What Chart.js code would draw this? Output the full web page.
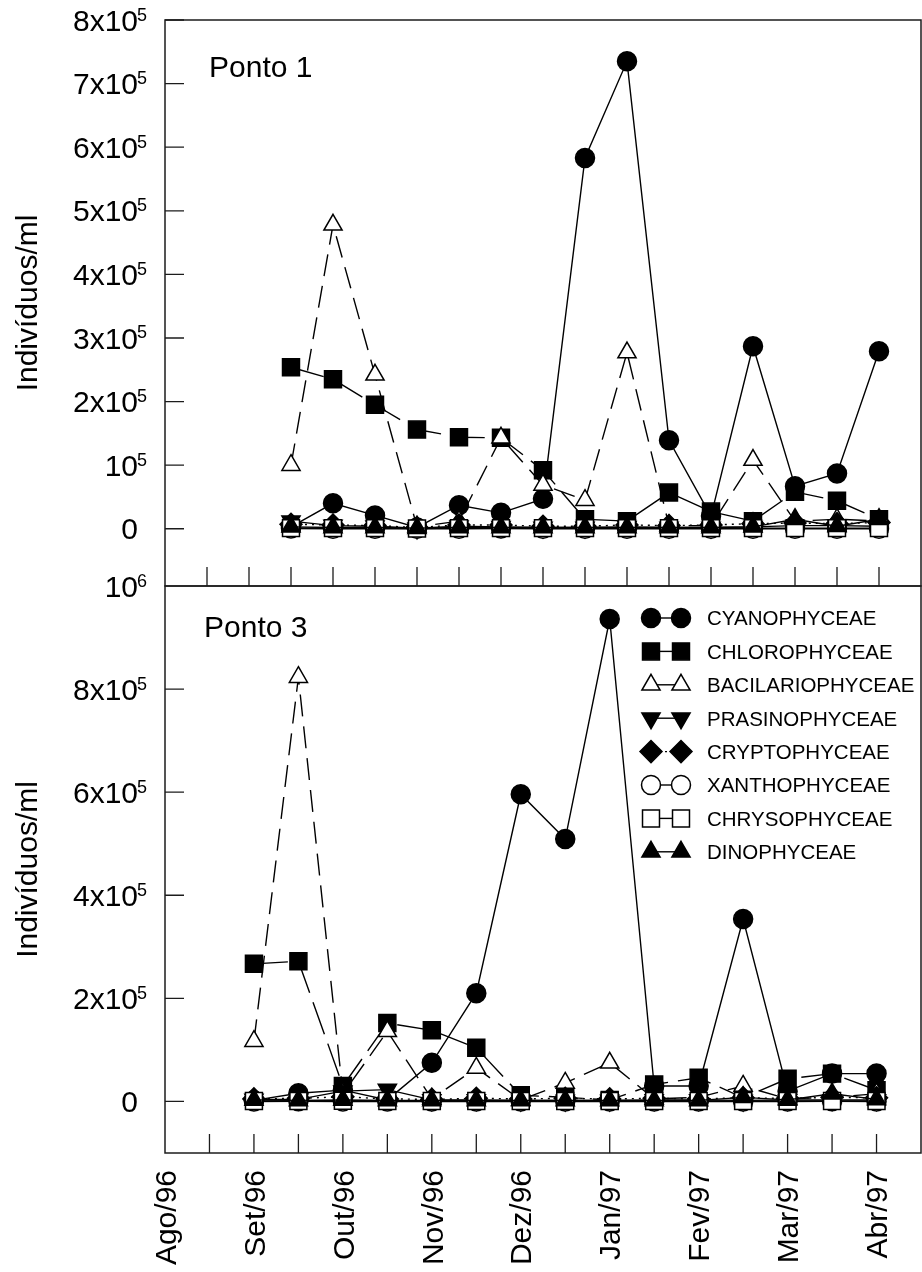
<!DOCTYPE html>
<html lang="pt">
<head>
<meta charset="utf-8">
<title>Fitoplâncton - Pontos 1 e 3</title>
<script src="https://cdn.jsdelivr.net/npm/chart.js@4.4.1/dist/chart.umd.min.js"></script>
<style>
  html, body { margin: 0; padding: 0; background: #fff; }
  #quadro { position: relative; width: 922px; height: 1272px; }
  #quadro canvas { position: absolute; left: 0; top: 0; }
</style>
</head>
<body>
<div id="quadro">
  <canvas id="ponto1" width="922" height="1272"></canvas>
  <canvas id="ponto3" width="922" height="1272"></canvas>
</div>
<script>
// Eixo x em meses contados a partir de Ago/96
const meses = ['Ago/96', 'Set/96', 'Out/96', 'Nov/96', 'Dez/96', 'Jan/97', 'Fev/97', 'Mar/97', 'Abr/97'];
const posMeses = [0, 1, 2, 3, 4, 5, 6, 7, 8];

// Coletas quinzenais
const coletasP1 = [1.5, 2, 2.5, 3, 3.5, 4, 4.5, 5, 5.5, 6, 6.5, 7, 7.5, 8, 8.5];
const coletasP3 = [1, 1.5, 2, 2.5, 3, 3.5, 4, 4.5, 5, 5.5, 6, 6.5, 7, 7.5, 8];

const classes = ['CYANOPHYCEAE', 'CHLOROPHYCEAE', 'BACILARIOPHYCEAE', 'PRASINOPHYCEAE',
  'CRYPTOPHYCEAE', 'XANTHOPHYCEAE', 'CHRYSOPHYCEAE', 'DINOPHYCEAE'];

// Ponto 1 (indivíduos/ml)
const p1Cyano   = [3000, 40000, 21000, 2000, 37000, 25000, 47000, 583000, 735000, 139000, 20000, 287000, 67000, 87000, 279000];
const p1Chloro  = [254000, 235000, 195000, 156000, 144000, 143000, 92000, 15000, 12000, 57000, 27000, 12000, 58000, 44000, 15000];
const p1Bacil   = [100000, 478000, 242000, 3000, 12000, 143000, 69000, 45000, 277000, 5000, 5000, 108000, 12000, 15000, 12000];
const p1Prasino = [12000, 5000, 4000, 1000, 4000, 3000, 2000, 2000, 3000, 2000, 2000, 3000, 5000, 5000, 4000];
const p1Crypto  = [7000, 6000, 5000, 2000, 6000, 6000, 4000, 4000, 6000, 5000, 6000, 8000, 9000, 8000, 10000];
const p1Xantho  = [500, 0, 0, 0, 0, 500, 0, 0, 0, 0, 0, 0, 0, 0, 0];
const p1Chryso  = [1000, 1000, 1000, 500, 1000, 1000, 1000, 1000, 1000, 1000, 1000, 1000, 1000, 1000, 1000];
const p1Dino    = [3000, 2000, 2000, 1000, 2000, 2000, 2000, 2000, 2000, 2000, 2000, 3000, 15000, 4000, 15000];

// Ponto 3 (indivíduos/ml)
const p3Cyano   = [2000, 16000, 22000, 3000, 75000, 210000, 596000, 509000, 936000, 30000, 30000, 354000, 20000, 54000, 54000];
const p3Chloro  = [267000, 272000, 30000, 152000, 138000, 104000, 12000, 8000, 3000, 33000, 46000, 7000, 44000, 54000, 22000];
const p3Bacil   = [117000, 823000, 15000, 136000, 5000, 65000, 3000, 36000, 75000, 5000, 8000, 30000, 5000, 8000, 15000];
const p3Prasino = [4000, 4000, 20000, 23000, 3000, 3000, 2000, 2000, 2000, 3000, 3000, 2000, 3000, 3000, 3000];
const p3Crypto  = [5000, 6000, 9000, 5000, 4000, 6000, 5000, 6000, 5000, 6000, 5000, 7000, 6000, 8000, 7000];
const p3Xantho  = [0, 500, 0, 0, 0, 0, 0, 0, 0, 0, 0, 0, 0, 500, 0];
const p3Chryso  = [1000, 1000, 1500, 1000, 1000, 1000, 1000, 1000, 1000, 1000, 1000, 1000, 1000, 1000, 1000];
const p3Dino    = [3000, 2000, 3000, 2000, 2000, 2000, 2000, 2000, 2000, 2000, 2000, 8000, 3000, 15000, 4000];

// Marcas e rótulos dos eixos
const valoresYP1 = [0, 100000, 200000, 300000, 400000, 500000, 600000, 700000, 800000];
const rotulosYP1 = ['0', '10^5', '2x10^5', '3x10^5', '4x10^5', '5x10^5', '6x10^5', '7x10^5', '8x10^5'];
const valoresYP3 = [0, 200000, 400000, 600000, 800000, 1000000];
const rotulosYP3 = ['0', '2x10^5', '4x10^5', '6x10^5', '8x10^5', '10^6'];
const marcasXP1 = [0.5, 1, 1.5, 2, 2.5, 3, 3.5, 4, 4.5, 5, 5.5, 6, 6.5, 7, 7.5, 8, 8.5];
const marcasXP3 = [0.5, 1, 1.5, 2, 2.5, 3, 3.5, 4, 4.5, 5, 5.5, 6, 6.5, 7, 7.5, 8];

const FONTE = '"Liberation Sans", Arial, Helvetica, sans-serif';

// símbolo e traço de cada classe (a legenda só mostra o pontilhado)
const estilos = [
  { forma: 'circle',   raio: 9.5,  fundo: '#000', tracejado: [],       traçoLegenda: [] },
  { forma: 'rect',     raio: 12,   fundo: '#000', tracejado: [34, 10], traçoLegenda: [] },
  { forma: 'triangle', raio: 10.5, fundo: '#fff', tracejado: [22, 10], traçoLegenda: [] },
  { forma: 'triangle', raio: 10.5, fundo: '#000', tracejado: [],       traçoLegenda: [], rotacao: 180 },
  { forma: 'rectRot',  raio: 11,   fundo: '#000', tracejado: [2, 5],   traçoLegenda: [2, 12] },
  { forma: 'circle',   raio: 9.5,  fundo: '#fff', tracejado: [],       traçoLegenda: [] },
  { forma: 'rect',     raio: 12,   fundo: '#fff', tracejado: [],       traçoLegenda: [] },
  { forma: 'triangle', raio: 10.5, fundo: '#000', tracejado: [],       traçoLegenda: [] }
];

function montaSeries(xs, series) {
  return series.map((vals, i) => {
    const e = estilos[i];
    return {
      label: classes[i],
      data: vals.map((v, k) => ({ x: xs[k], y: v })),
      borderColor: '#000',
      borderWidth: 1.4,
      borderDash: e.tracejado,
      backgroundColor: e.fundo,
      pointStyle: e.forma,
      pointRadius: e.raio,
      pointRotation: e.rotacao || 0,
      pointBackgroundColor: e.fundo,
      pointBorderColor: '#000',
      pointBorderWidth: 1.5,
      tension: 0,
      fill: false,
      order: series.length - i
    };
  });
}

function desenhaSimbolo(ctx, e, x, y) {
  ctx.save();
  ctx.setLineDash([]);
  ctx.fillStyle = e.fundo;
  ctx.strokeStyle = '#000';
  ctx.lineWidth = 1.5;
  Chart.helpers.drawPoint(ctx, { pointStyle: e.forma, radius: e.raio, rotation: e.rotacao || 0, borderWidth: 1.5 }, x, y);
  ctx.restore();
}

// "2x10^5" -> base com expoente sobrescrito
function rotuloPotencia(ctx, texto, xDir, yTick) {
  const [base, exp] = texto.split('^');
  ctx.font = `30px ${FONTE}`;
  ctx.textAlign = 'right';
  ctx.textBaseline = 'alphabetic';
  ctx.fillText(base, xDir, yTick + 10.7);
  if (exp) {
    ctx.font = `18px ${FONTE}`;
    ctx.textAlign = 'left';
    ctx.fillText(exp, xDir - 1, yTick + 0.5);
  }
}

function moldura(cfg) {
  return {
    id: 'moldura',
    afterDraw(chart) {
      const { ctx, chartArea: a } = chart;
      const sx = chart.scales.x, sy = chart.scales.y;
      ctx.save();
      ctx.setLineDash([]);
      ctx.strokeStyle = '#1c1c1c';
      ctx.lineWidth = 1.5;
      ctx.strokeRect(a.left, a.top, a.right - a.left, a.bottom - a.top);

      // marcas para dentro
      ctx.lineWidth = 1.3;
      ctx.beginPath();
      cfg.marcasY.forEach(v => {
        const py = sy.getPixelForValue(v);
        ctx.moveTo(a.left, py);
        ctx.lineTo(a.left + 19, py);
      });
      cfg.marcasX.forEach(v => {
        const px = sx.getPixelForValue(v);
        ctx.moveTo(px, a.bottom);
        ctx.lineTo(px, a.bottom - 19);
      });
      ctx.stroke();

      ctx.fillStyle = '#000';
      cfg.valoresY.forEach((v, i) => rotuloPotencia(ctx, cfg.rotulosY[i], 138, sy.getPixelForValue(v)));

      if (cfg.rotulosX) {
        ctx.font = `30px ${FONTE}`;
        ctx.textAlign = 'right';
        ctx.textBaseline = 'alphabetic';
        cfg.rotulosX.forEach((t, i) => {
          const px = sx.getPixelForValue(cfg.posRotulosX[i]);
          ctx.save();
          ctx.translate(px + 10.7, a.bottom + 17);
          ctx.rotate(-Math.PI / 2);
          ctx.fillText(t, 0, 0);
          ctx.restore();
        });
      }

      // nome do ponto
      ctx.font = `30px ${FONTE}`;
      ctx.textAlign = 'left';
      ctx.textBaseline = 'alphabetic';
      ctx.fillText(cfg.nome, cfg.nomeX, cfg.nomeY);

      // título do eixo y
      ctx.save();
      ctx.translate(37, (a.top + a.bottom) / 2);
      ctx.rotate(-Math.PI / 2);
      ctx.textAlign = 'center';
      ctx.fillText('Indivíduos/ml', 0, 0);
      ctx.restore();

      if (cfg.legenda) {
        ctx.font = `20.5px ${FONTE}`;
        classes.forEach((nome, i) => {
          const e = estilos[i];
          const y = 618 + i * 33.4;
          ctx.save();
          ctx.strokeStyle = '#000';
          ctx.lineWidth = 1.4;
          ctx.setLineDash(e.traçoLegenda);
          ctx.lineDashOffset = 0;
          ctx.beginPath();
          ctx.moveTo(651, y);
          ctx.lineTo(681, y);
          ctx.stroke();
          ctx.restore();
          desenhaSimbolo(ctx, e, 651, y);
          desenhaSimbolo(ctx, e, 681, y);
          ctx.fillStyle = '#000';
          ctx.textAlign = 'left';
          ctx.textBaseline = 'alphabetic';
          ctx.fillText(nome, 707, y + 7.3);
        });
      }
      ctx.restore();
    }
  };
}

function configPainel(p) {
  return {
    type: 'line',
    data: { datasets: montaSeries(p.xs, p.series) },
    options: {
      responsive: false,
      animation: false,
      events: [],
      layout: { autoPadding: false, padding: { left: 165, top: p.topo, right: 1, bottom: 1272 - p.base } },
      scales: {
        x: { type: 'linear', display: false, min: 0, max: p.xMax },
        y: { type: 'linear', display: false, min: p.yMin, max: p.yMax }
      },
      plugins: { legend: { display: false }, tooltip: { enabled: false } }
    },
    plugins: [moldura(p.moldura)]
  };
}

new Chart(document.getElementById('ponto1'), configPainel({
  xs: coletasP1,
  series: [p1Cyano, p1Chloro, p1Bacil, p1Prasino, p1Crypto, p1Xantho, p1Chryso, p1Dino],
  topo: 20, base: 586, xMax: 9, yMin: -90000, yMax: 800000,
  moldura: {
    marcasY: valoresYP1, valoresY: valoresYP1, rotulosY: rotulosYP1,
    marcasX: marcasXP1, nome: 'Ponto 1', nomeX: 209, nomeY: 77
  }
}));

new Chart(document.getElementById('ponto3'), configPainel({
  xs: coletasP3,
  series: [p3Cyano, p3Chloro, p3Bacil, p3Prasino, p3Crypto, p3Xantho, p3Chryso, p3Dino],
  topo: 586, base: 1153, xMax: 8.5, yMin: -100000, yMax: 1000000,
  moldura: {
    marcasY: valoresYP3.slice(0, 5), valoresY: valoresYP3, rotulosY: rotulosYP3,
    marcasX: marcasXP3, rotulosX: meses, posRotulosX: posMeses,
    nome: 'Ponto 3', nomeX: 204, nomeY: 637, legenda: true
  }
}));
</script>
</body>
</html>
